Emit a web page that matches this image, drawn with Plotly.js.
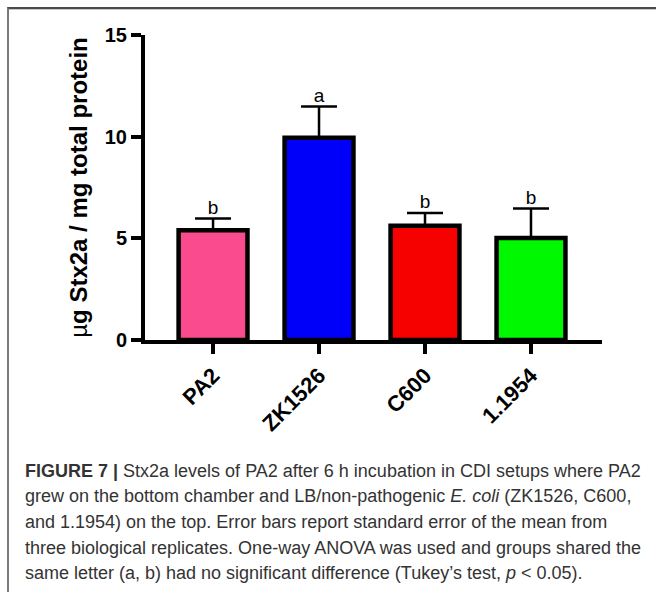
<!DOCTYPE html>
<html>
<head>
<meta charset="utf-8">
<script src="https://cdn.plot.ly/plotly-3.0.1.min.js"></script>
<style>
  html, body { margin: 0; padding: 0; background: #fff; }
  #wrap { position: relative; width: 656px; height: 592px; overflow: hidden; }
  #chart { position: absolute; left: 0; top: 0; width: 656px; height: 592px; }
  #frame { position: absolute; left: 7px; top: 7px; width: 800px; height: 800px;
           border-top: 2px solid #4a4a4a; border-left: 2px solid #7a7a7a; pointer-events: none; }
  #frame2 { position: absolute; left: 9px; top: 9px; width: 800px; height: 1px;
           background: #c8c8c8; pointer-events: none; }
</style>
</head>
<body>
<div id="wrap">
  <div id="chart"></div>
  <div id="frame"></div>
  <div id="frame2"></div>
</div>
<script>
// ---- data ----
const strains = ["PA2", "ZK1526", "C600", "1.1954"];
const stx2aMeans = [5.40, 9.95, 5.62, 5.02];
const stx2aSEM = [0.58, 1.53, 0.62, 1.45];
const groupLetters = ["b", "a", "b", "b"];
const barColors = ["#FA4B8E", "#0000FA", "#F70000", "#00F800"];
const yTickVals = [0, 5, 10, 15];
const yTitle = "<span style='font-weight:normal'>µ</span>g Stx2a / mg total protein";
const captionLines = [
  "<b>FIGURE 7 |</b> Stx2a levels of PA2 after 6 h incubation in CDI setups where PA2",
  "grew on the bottom chamber and LB/non-pathogenic <i>E. coli</i> (ZK1526, C600,",
  "and 1.1954) on the top. Error bars report standard error of the mean from",
  "three biological replicates. One-way ANOVA was used and groups shared the",
  "same letter (a, b) had no significant difference (Tukey’s test, <i>p</i> < 0.05)."
];

const FONT = "Liberation Sans, Arial, Helvetica, sans-serif";

const ml = 145, mr = 54, mt = 35, mb = 252;
const W = 656, H = 592;
const plotW = W - ml - mr, plotH = H - mt - mb;
const px2x = p => (p - ml) / plotW;
const py2y = p => (H - mb - p) / plotH;

const bars = {
  type: "bar",
  x: strains,
  y: stx2aMeans,
  width: 0.65,
  marker: { color: barColors, line: { color: "#000", width: 4.5 } },
  error_y: {
    type: "data", symmetric: false,
    array: stx2aSEM,
    arrayminus: stx2aSEM.map(() => 0),
    color: "#000", thickness: 2.5, width: 18
  },
  hoverinfo: "skip",
  showlegend: false
};

const letters = {
  type: "scatter",
  mode: "text",
  x: strains,
  y: stx2aMeans.map((m, i) => m + stx2aSEM[i]),
  text: groupLetters,
  textposition: "top center",
  textfont: { family: FONT, size: 19, color: "#000" },
  hoverinfo: "skip",
  showlegend: false
};

const lineStart = 471, lineStep = 25.5;
const annotations = captionLines.map((t, i) => ({
  xref: "paper", yref: "paper",
  x: px2x(23), y: py2y(lineStart + i * lineStep),
  xanchor: "left", yanchor: "middle",
  text: t, showarrow: false, align: "left",
  font: { family: FONT, size: 18, color: "#333" }
}));

const layout = {
  width: W, height: H,
  margin: { l: ml, r: mr, t: mt, b: mb, pad: 0 },
  paper_bgcolor: "rgba(0,0,0,0)",
  plot_bgcolor: "rgba(0,0,0,0)",
  font: { family: FONT, color: "#000" },
  xaxis: {
    type: "category",
    range: [-0.642, 3.67],
    showline: true, linecolor: "#000", linewidth: 4,
    ticks: "outside", ticklen: 10, tickwidth: 4, tickcolor: "#000",
    tickangle: -45,
    tickfont: { family: FONT, size: 22, weight: "bold", color: "#000" },
    showgrid: false, zeroline: false, fixedrange: true
  },
  yaxis: {
    range: [0, 15],
    tickvals: yTickVals,
    showline: true, linecolor: "#000", linewidth: 4,
    ticks: "outside", ticklen: 10, tickwidth: 4, tickcolor: "#000",
    tickfont: { family: FONT, size: 20, weight: "bold", color: "#000" },
    title: { text: yTitle, font: { family: FONT, size: 24, weight: "bold", color: "#000" }, standoff: 11 },
    showgrid: false, zeroline: false, fixedrange: true
  },
  bargap: 0.35,
  annotations: annotations
};

Plotly.newPlot("chart", [bars, letters], layout, { displayModeBar: false, staticPlot: true });
</script>
</body>
</html>
